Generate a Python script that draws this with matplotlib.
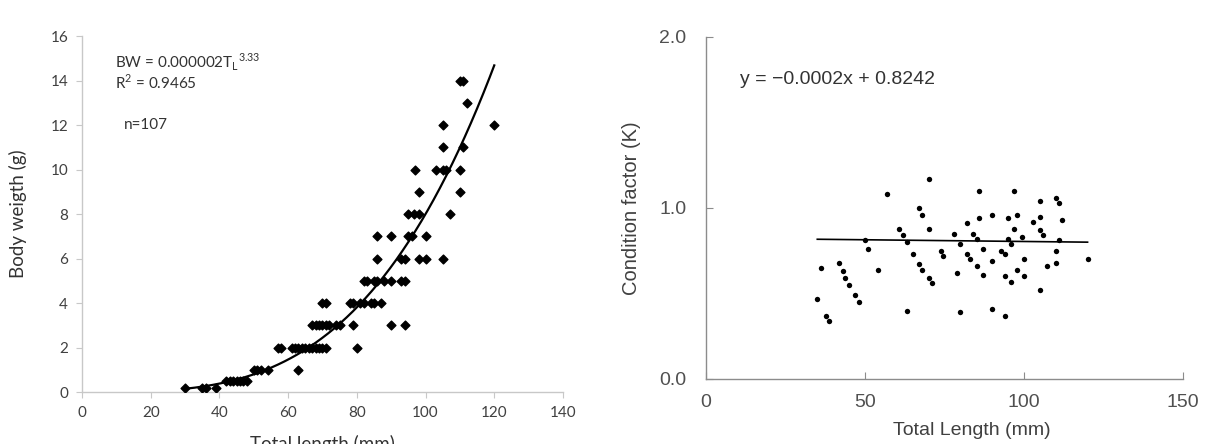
"""
Length-weight relationship & condition factor (two panels)
"""

import numpy as np
import matplotlib
matplotlib.use('Agg')
import matplotlib.pyplot as plt

# ============================================================
#                    data
# ============================================================

# --- left panel: total length (mm) vs body weight (g) ---
TL_LEFT = [30, 35, 36, 39,
           42, 43, 44, 45, 46, 47, 48,
           50, 51, 52, 54, 63,
           57, 58, 61, 62, 63, 64, 65, 66, 67, 68, 69, 70, 71, 80,
           67, 68, 69, 70, 71, 72, 74, 75, 79, 90, 94,
           70, 71, 78, 79, 81, 82, 84, 85, 87,
           82, 83, 85, 86, 88, 90, 93, 94,
           86, 93, 94, 98, 100, 105,
           86, 90, 95, 96, 100,
           95, 96.5, 98, 107,
           98, 110,
           97, 103, 105, 106, 110,
           105, 111,
           105, 120,
           112,
           110, 111]
BW_LEFT = [0.2] * 4 + [0.5] * 7 + [1] * 5 + [2] * 14 + [3] * 11 + [4] * 9 + \
          [5] * 8 + [6] * 6 + [7] * 5 + [8] * 4 + [9] * 2 + [10] * 5 + \
          [11] * 2 + [12] * 2 + [13] * 1 + [14] * 2

# power fit BW = a * TL^b (curve as drawn)
FIT_A = 1.75e-6
FIT_B = 3.33
FIT_RANGE = (30, 120)

# --- right panel: total length (mm) vs condition factor K ---
TL_RIGHT = [34.8, 36.1, 37.7, 38.8, 41.9, 43.0, 43.8, 45.1, 47.0, 48.0,
            50.0, 51.0, 54.0, 56.8, 60.8, 62.0, 63.1, 63.1, 65.0, 67.0,
            67.8, 67.0, 67.8, 70.1, 70.1, 70.1, 71.0, 73.9, 74.6, 78.0,
            78.8, 79.9, 79.9, 82.0, 82.0, 83.0, 83.9, 85.1, 85.1, 85.8,
            85.8, 87.0, 87.0, 90.1, 90.1, 90.1, 92.8, 94.0, 94.0, 94.0,
            94.9, 94.9, 95.9, 95.9, 96.9, 96.9, 97.9, 97.9, 99.3, 100.0,
            100.0, 102.9, 105.0, 105.0, 105.0, 105.9, 105.0, 107.1, 110.1, 111.0,
            112.0, 111.0, 110.1, 110.1, 120.0]
K_RIGHT = [0.47, 0.65, 0.37, 0.34, 0.68, 0.63, 0.59, 0.55, 0.49, 0.45,
           0.81, 0.76, 0.64, 1.08, 0.88, 0.84, 0.80, 0.40, 0.73, 0.67,
           0.64, 1.00, 0.96, 1.17, 0.88, 0.59, 0.56, 0.75, 0.72, 0.85,
           0.62, 0.79, 0.39, 0.91, 0.73, 0.70, 0.85, 0.82, 0.66, 1.10,
           0.94, 0.76, 0.61, 0.96, 0.69, 0.41, 0.75, 0.73, 0.60, 0.37,
           0.94, 0.82, 0.79, 0.57, 1.10, 0.88, 0.96, 0.64, 0.83, 0.70,
           0.60, 0.92, 1.04, 0.95, 0.87, 0.84, 0.52, 0.66, 1.06, 1.03,
           0.93, 0.81, 0.75, 0.68, 0.70]

# linear fit y = slope * x + intercept
LIN_SLOPE = -0.0002
LIN_INTERCEPT = 0.8242
LIN_RANGE = (35, 120)

# ============================================================
#                    plotting
# ============================================================

LEFT_FONT = ['Lato', 'DejaVu Sans']
RIGHT_FONT = ['Liberation Sans', 'DejaVu Sans']


def plot_length_weight(ax):
    """left panel: scatter + power curve (Excel style)"""
    ax.scatter(TL_LEFT, BW_LEFT, marker='D', s=20, color='black', zorder=3)

    xs = np.linspace(FIT_RANGE[0], FIT_RANGE[1], 200)
    ax.plot(xs, FIT_A * xs ** FIT_B, color='black', lw=1.6, zorder=2)

    ax.set_xlim(0, 140)
    ax.set_ylim(0, 16)
    ax.set_xticks(np.arange(0, 141, 20))
    ax.set_yticks(np.arange(0, 17, 2))

    for side in ['top', 'right']:
        ax.spines[side].set_visible(False)
    for side in ['left', 'bottom']:
        ax.spines[side].set_color('#c8c8c8')
        ax.spines[side].set_linewidth(1.0)

    ax.tick_params(direction='out', length=4, color='#c8c8c8',
                   labelcolor='#404040', labelsize=11, pad=6)
    for lbl in ax.get_xticklabels() + ax.get_yticklabels():
        lbl.set_family(LEFT_FONT)

    ax.set_xlabel('Total length (mm)', family=LEFT_FONT, fontsize=13.5,
                  color='#333333', labelpad=11)
    ax.set_ylabel('Body weigth (g)', family=LEFT_FONT, fontsize=13.5,
                  color='#333333', labelpad=17)

    ax.text(9.6, 14.8, r'BW = 0.000002T$_\mathregular{L}$$^\mathregular{3.33}$',
            family=LEFT_FONT, fontsize=11, color='#333333', va='center')
    ax.text(9.6, 13.9, r'R$^\mathregular{2}$ = 0.9465',
            family=LEFT_FONT, fontsize=11, color='#333333', va='center')
    ax.text(12.2, 12.0, 'n=107',
            family=LEFT_FONT, fontsize=11, color='#333333', va='center')


def plot_condition_factor(ax):
    """right panel: scatter + linear trend"""
    ax.scatter(TL_RIGHT, K_RIGHT, marker='o', s=15, color='black',
               linewidths=0, zorder=3)

    xs = np.array(LIN_RANGE)
    ax.plot(xs, LIN_SLOPE * xs + LIN_INTERCEPT, color='black', lw=1.2, zorder=2)

    ax.set_xlim(0, 150)
    ax.set_ylim(0, 2)
    ax.set_xticks([0, 50, 100, 150])
    ax.set_yticks([0, 1, 2])
    ax.set_yticklabels(['0.0', '1.0', '2.0'])

    for side in ['top', 'right']:
        ax.spines[side].set_visible(False)
    for side in ['left', 'bottom']:
        ax.spines[side].set_color('#8c8c8c')
        ax.spines[side].set_linewidth(1.0)

    ax.tick_params(direction='in', length=5, color='#8c8c8c',
                   labelcolor='#505050', labelsize=14)
    ax.tick_params(axis='y', pad=14)
    ax.tick_params(axis='x', pad=11)
    for lbl in ax.get_xticklabels() + ax.get_yticklabels():
        lbl.set_family(RIGHT_FONT)

    ax.set_xlabel('Total Length (mm)', family=RIGHT_FONT, fontsize=14,
                  color='#404040')
    ax.xaxis.set_label_coords(0.558, -0.125)
    ax.set_ylabel('Condition factor (K)', family=RIGHT_FONT, fontsize=14.5,
                  color='#404040', labelpad=13)

    ax.text(10.7, 1.75, 'y = \u22120.0002x + 0.8242',
            family=RIGHT_FONT, fontsize=14, color='#333333', va='center')


def main():
    fig = plt.figure(figsize=(12.06, 4.44), dpi=100)
    ax_left = fig.add_axes([0.0680, 0.1171, 0.3988, 0.8018])
    ax_right = fig.add_axes([0.5854, 0.1464, 0.3955, 0.7703])

    plot_length_weight(ax_left)
    plot_condition_factor(ax_right)

    fig.savefig('out.png', dpi=100)
    plt.close(fig)


if __name__ == '__main__':
    main()
